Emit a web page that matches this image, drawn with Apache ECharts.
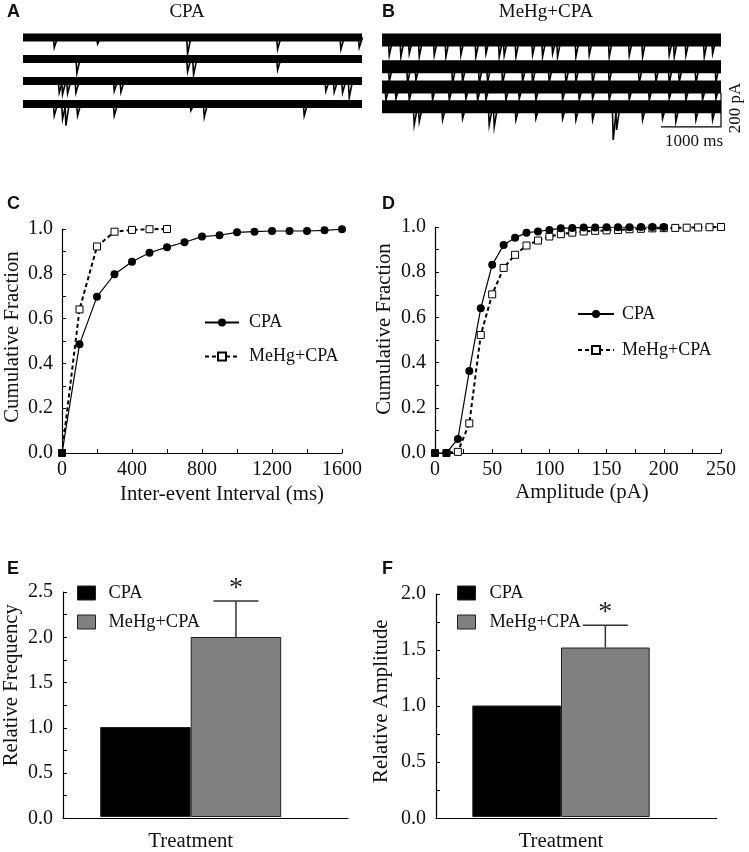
<!DOCTYPE html>
<html><head><meta charset="utf-8">
<script src="https://cdn.jsdelivr.net/npm/echarts@6/dist/echarts.min.js"></script>
<style>html,body{margin:0;padding:0;background:#fff}#c{width:749px;height:852px}</style>
</head><body><div id="c"></div>
<script>
// ---------- DATA ----------
// Panel A/B sample traces: baseline offset (pA) of each sweep and events [time ms, depth pA]
const traceEnd = 5650;
const aOffsets = [-103, -229, -359, -494];
const aEv1 = [[506,59],[1228,39],[2728,98],[4228,69],[5283,69],[5589,59]];
const aEv2 = [[883,84],[2728,75],[2828,94],[4228,65]];
const aEv3 = [[589,69],[644,78],[728,73],[867,69],[1506,59],[1617,65],[5033,59],[5172,65],[5311,69],[5422,98]];
const aEv4 = [[506,69],[644,88],[700,127],[894,69],[1506,69],[2783,39],[3006,78],[4672,69]];
const bOffsets = [-118, -275, -394, -510];
const bEv1 = [[106,90],[300,98],[439,80],[606,98],[856,90],[1050,98],[1300,88],[1550,98],[1717,80],[1939,98],[2022,90],[2217,98],[2495,88],[2661,98],[2828,80],[2911,98],[3217,98],[3439,88],[3772,98],[4106,90],[4328,98],[4772,88],[4856,98],[5050,90],[5356,98],[5495,80]];
const bEv2 = [[106,88],[411,98],[550,80],[1161,98],[1328,88],[1606,98],[1745,90],[1995,98],[2328,88],[2495,98],[2772,90],[3050,98],[3217,88],[3495,98],[3772,90],[4272,98],[4550,88],[4772,98],[4939,90],[5217,98],[5550,88]];
const bEv3 = [[50,78],[217,70],[439,78],[828,75],[1106,78],[1383,70],[1578,78],[1717,75],[2050,78],[2272,70],[2550,78],[2995,75],[3272,78],[3495,70],[3772,78],[4106,75],[4439,78],[4772,70],[5050,78],[5328,75],[5550,70]];
const bEv4 = [[522,108],[606,88],[995,78],[1328,70],[1772,108],[1856,118],[2217,78],[2550,70],[2995,70],[3217,78],[3495,78],[3839,196],[3895,137],[4328,78],[4661,70],[4883,88],[5217,78],[5495,78]];
const scaleBar = [[4650,-629],[5650,-629],[5650,-429]]; // 1000 ms x 200 pA

// Panel C: cumulative fraction vs inter-event interval (ms)
const cX_CPA = [0,100,200,300,400,500,600,700,800,900,1000,1100,1200,1300,1400,1500,1600];
const cY_CPA = [0,0.485,0.698,0.798,0.854,0.894,0.919,0.941,0.966,0.972,0.985,0.988,0.991,0.991,0.991,0.994,0.999];
const cX_Me = [0,100,200,300,400,500,600];
const cY_Me = [0,0.641,0.922,0.988,0.996,0.999,1.0];

// Panel D: cumulative fraction vs amplitude (pA)
const dX_CPA = [0,10,20,30,40,50,60,70,80,90,100,110,120,130,140,150,160,170,180,190,200];
const dY_CPA = [0,0,0.062,0.363,0.641,0.833,0.92,0.952,0.975,0.98,0.987,0.994,0.996,0.998,0.998,0.999,0.999,0.999,1,1,1];
const dX_Me = [0,10,20,30,40,50,60,70,80,90,100,110,120,130,140,150,160,170,180,190,200,210,220,230,240,250];
const dY_Me = [0,0,0.005,0.131,0.522,0.702,0.819,0.877,0.918,0.94,0.958,0.968,0.975,0.98,0.983,0.985,0.987,0.99,0.992,0.994,0.995,0.996,0.997,0.998,0.999,1.0];

// Panels E/F: relative values
const barCats = ['Treatment'];
const eValues = [1.0, 2.0];
const eErrTop = 2.4;
const fValues = [1.0, 1.52];
const fErrTop = 1.72;

// ---------- CHART ----------
const SERIF = 'Liberation Serif';
const TXT = '#111';
const chart = echarts.init(document.getElementById('c'), null, {renderer:'canvas'});

function band(gi, o, w){
  return {type:'line', xAxisIndex:gi, yAxisIndex:gi, data:[[0,o],[traceEnd,o]], symbol:'none', silent:true,
    lineStyle:{color:'#000', width:w, cap:'butt'}};
}
function spikes(gi, o, ev){
  return {type:'lines', coordinateSystem:'cartesian2d', xAxisIndex:gi, yAxisIndex:gi, polyline:true, silent:true,
    data: ev.map(([t,d]) => ({coords:[[t,o],[t+15,o-d],[t+70,o]]})),
    lineStyle:{color:'#000', width:1.6, opacity:1}};
}
const traceSeries = [];
[aEv1,aEv2,aEv3,aEv4].forEach((ev,i)=>{ traceSeries.push(band(0,aOffsets[i],8)); traceSeries.push(spikes(0,aOffsets[i],ev)); });
[bEv1,bEv2,bEv3,bEv4].forEach((ev,i)=>{ traceSeries.push(band(1,bOffsets[i],13)); traceSeries.push(spikes(1,bOffsets[i],ev)); });
traceSeries.push({type:'lines', coordinateSystem:'cartesian2d', xAxisIndex:1, yAxisIndex:1, polyline:true, silent:true,
  data:[{coords:scaleBar}], lineStyle:{color:'#000', width:1.2, opacity:1}});

const axisLineS = {show:true, lineStyle:{color:'#000', width:1.2}};
const tickS = {show:true, inside:true, length:4, lineStyle:{color:'#000', width:1}};
const minorS = {show:true, splitNumber:2, length:4, lineStyle:{color:'#000', width:1}};
const labS = (m, f, fs) => ({color:TXT, fontFamily:SERIF, fontSize:fs||20, margin:m, formatter:f});
const nameS = (pad) => ({color:TXT, fontFamily:SERIF, fontSize:20.8, padding:pad||0});
const fix1 = v => v.toFixed(1);
const plain = v => String(v);

const hiddenX = (g)=>({gridIndex:g, type:'value', min:0, max:traceEnd, show:false});
const hiddenY = (g)=>({gridIndex:g, type:'value', min:-720, max:0, show:false});

function cumLine(name, gi, xs, ys, isMe){
  return {type:'line', name:name, xAxisIndex:gi, yAxisIndex:gi, data: xs.map((x,i)=>[x,ys[i]]),
    symbol: isMe ? 'rect' : 'circle', symbolSize: isMe ? 7 : 8, z: isMe ? 3 : 4,
    itemStyle: isMe ? {color:'#fff', borderColor:'#000', borderWidth:1} : {color:'#000', borderColor:'#000', borderWidth:0},
    lineStyle: isMe ? {color:'#000', width:2, type:[4,3]} : {color:'#000', width:1.2}};
}

function errRender(barW){
  return function(params, api){
    const c0 = api.coord([api.value(0), api.value(1)]);
    const c1 = api.coord([api.value(0), api.value(2)]);
    const x = c0[0] + barW/2;
    return {type:'group', children:[
      {type:'line', shape:{x1:x, y1:c0[1], x2:x, y2:c1[1]}, style:{stroke:'#333', lineWidth:1.5}},
      {type:'line', shape:{x1:x-22.5, y1:c1[1], x2:x+22.5, y2:c1[1]}, style:{stroke:'#333', lineWidth:1.5}},
      {type:'text', x:x, y:c1[1]-12.5, style:{text:'*', fontSize:28, fontFamily:SERIF, fill:'#222', align:'center', verticalAlign:'middle'}}
    ]};
  };
}
function bars(gi, vals, errTop, barW){
  return [
    {type:'bar', name:'CPA', xAxisIndex:gi, yAxisIndex:gi, data:[vals[0]], barWidth:barW, barGap:'0%',
      itemStyle:{color:'#000', borderColor:'#222', borderWidth:1}},
    {type:'bar', name:'MeHg+CPA', xAxisIndex:gi, yAxisIndex:gi, data:[vals[1]], barWidth:barW, barGap:'0%',
      itemStyle:{color:'#808080', borderColor:'#222', borderWidth:1}},
    {type:'custom', xAxisIndex:gi, yAxisIndex:gi, renderItem:errRender(barW), data:[[0, vals[1], errTop]], z:5}
  ];
}
const barLegendData = [
  {name:'CPA', icon:'rect', itemStyle:{color:'#000', borderColor:'#222', borderWidth:1}},
  {name:'MeHg+CPA', icon:'rect', itemStyle:{color:'#808080', borderColor:'#222', borderWidth:1}}
];
const legTxt = (fs, padL) => ({color:TXT, fontFamily:SERIF, fontSize:fs, padding:[0,0,0,padL]});

const option = {
  animation:false,
  backgroundColor:'#fff',
  grid:[
    {left:23, top:20, width:339, height:122.4},
    {left:382, top:20, width:339, height:122.4},
    {left:62, top:229, width:280, height:224},
    {left:435, top:227, width:286, height:226},
    {left:63, top:592, width:255.4, height:226.3},
    {left:63, top:592, width:285, height:226.3},
    {left:436, top:594, width:250, height:224.3},
    {left:436, top:594, width:280.7, height:224.3}
  ],
  xAxis:[
    hiddenX(0), hiddenX(1),
    {gridIndex:2, type:'value', min:0, max:1600, interval:400, axisLine:axisLineS, axisTick:tickS, minorTick:minorS,
      splitLine:{show:false}, axisLabel:labS(7, plain), name:'Inter-event Interval (ms)', nameLocation:'middle', nameGap:31,
      nameTextStyle:nameS([0,0,0,40])},
    {gridIndex:3, type:'value', min:0, max:250, interval:50, axisLine:axisLineS, axisTick:tickS, minorTick:minorS,
      splitLine:{show:false}, axisLabel:labS(7, plain), name:'Amplitude (pA)', nameLocation:'middle', nameGap:29,
      nameTextStyle:nameS([0,0,0,8])},
    {gridIndex:4, type:'category', data:barCats, axisLine:{show:false}, axisTick:{show:false}, axisLabel:labS(14, null, 20.8)},
    {gridIndex:5, type:'category', data:[''], axisLine:axisLineS, axisTick:{show:false}, axisLabel:{show:false}},
    {gridIndex:6, type:'category', data:barCats, axisLine:{show:false}, axisTick:{show:false}, axisLabel:labS(14, null, 20.8)},
    {gridIndex:7, type:'category', data:[''], axisLine:axisLineS, axisTick:{show:false}, axisLabel:{show:false}}
  ],
  yAxis:[
    hiddenY(0), hiddenY(1),
    {gridIndex:2, type:'value', min:0, max:1, interval:0.2, axisLine:axisLineS, axisTick:tickS, minorTick:minorS,
      splitLine:{show:false}, axisLabel:labS(9, fix1), name:'Cumulative Fraction', nameLocation:'middle', nameGap:39, nameTextStyle:nameS([0,0,0,8])},
    {gridIndex:3, type:'value', min:0, max:1, interval:0.2, axisLine:axisLineS, axisTick:tickS, minorTick:minorS,
      splitLine:{show:false}, axisLabel:labS(9, fix1), name:'Cumulative Fraction', nameLocation:'middle', nameGap:40, nameTextStyle:nameS([0,0,0,22])},
    {gridIndex:4, type:'value', min:0, max:2.5, show:false},
    {gridIndex:5, type:'value', min:0, max:2.5, interval:0.5, axisLine:axisLineS, axisTick:tickS, minorTick:minorS,
      splitLine:{show:false}, axisLabel:labS(10, fix1), name:'Relative Frequency', nameLocation:'middle', nameGap:41, nameTextStyle:nameS([0,0,0,40])},
    {gridIndex:6, type:'value', min:0, max:2, show:false},
    {gridIndex:7, type:'value', min:0, max:2, interval:0.5, axisLine:axisLineS, axisTick:tickS, minorTick:minorS,
      splitLine:{show:false}, axisLabel:labS(10, fix1), name:'Relative Amplitude', nameLocation:'middle', nameGap:44, nameTextStyle:nameS([0,0,0,10])}
  ],
  legend:[
    {left:199, top:308.5, orient:'vertical', data:['CPA','MeHg+CPA'], itemWidth:34, itemHeight:10, itemGap:16,
      textStyle:legTxt(18,5), selectedMode:false},
    {left:572, top:300, orient:'vertical', data:['CPA','MeHg+CPA'], itemWidth:36, itemHeight:10, itemGap:18,
      textStyle:legTxt(18,3), selectedMode:false},
    {left:72, top:579, orient:'vertical', data:barLegendData, itemWidth:18, itemHeight:14, itemGap:11,
      textStyle:legTxt(18.4,8), selectedMode:false},
    {left:452, top:579, orient:'vertical', data:barLegendData, itemWidth:18, itemHeight:14, itemGap:11,
      textStyle:legTxt(18.4,9), selectedMode:false}
  ],
  graphic:[
    {type:'text', x:7, y:12.5, style:{text:'A', font:'bold 18px "Liberation Sans"', fill:'#111', verticalAlign:'middle'}},
    {type:'text', x:382, y:12.5, style:{text:'B', font:'bold 18px "Liberation Sans"', fill:'#111', verticalAlign:'middle'}},
    {type:'text', x:7, y:204, style:{text:'C', font:'bold 18px "Liberation Sans"', fill:'#111', verticalAlign:'middle'}},
    {type:'text', x:382, y:204, style:{text:'D', font:'bold 18px "Liberation Sans"', fill:'#111', verticalAlign:'middle'}},
    {type:'text', x:7, y:569, style:{text:'E', font:'bold 18px "Liberation Sans"', fill:'#111', verticalAlign:'middle'}},
    {type:'text', x:382, y:569, style:{text:'F', font:'bold 18px "Liberation Sans"', fill:'#111', verticalAlign:'middle'}},
    {type:'text', x:187, y:12, style:{text:'CPA', font:'19px "Liberation Serif"', fill:TXT, align:'center', verticalAlign:'middle'}},
    {type:'text', x:546, y:12, style:{text:'MeHg+CPA', font:'19px "Liberation Serif"', fill:TXT, align:'center', verticalAlign:'middle'}},
    {type:'text', x:736, y:108, rotation:Math.PI/2, style:{text:'200 pA', font:'17px "Liberation Serif"', fill:TXT, align:'center', verticalAlign:'middle'}},
    {type:'text', x:694, y:141.5, style:{text:'1000 ms', font:'17px "Liberation Serif"', fill:TXT, align:'center', verticalAlign:'middle'}}
  ],
  series:[].concat(
    traceSeries,
    [cumLine('CPA',2,cX_CPA,cY_CPA,false), cumLine('MeHg+CPA',2,cX_Me,cY_Me,true),
     cumLine('CPA',3,dX_CPA,dY_CPA,false), cumLine('MeHg+CPA',3,dX_Me,dY_Me,true)],
    bars(4, eValues, eErrTop, 90.5),
    bars(6, fValues, fErrTop, 88.7)
  )
};
chart.setOption(option);
</script></body></html>
